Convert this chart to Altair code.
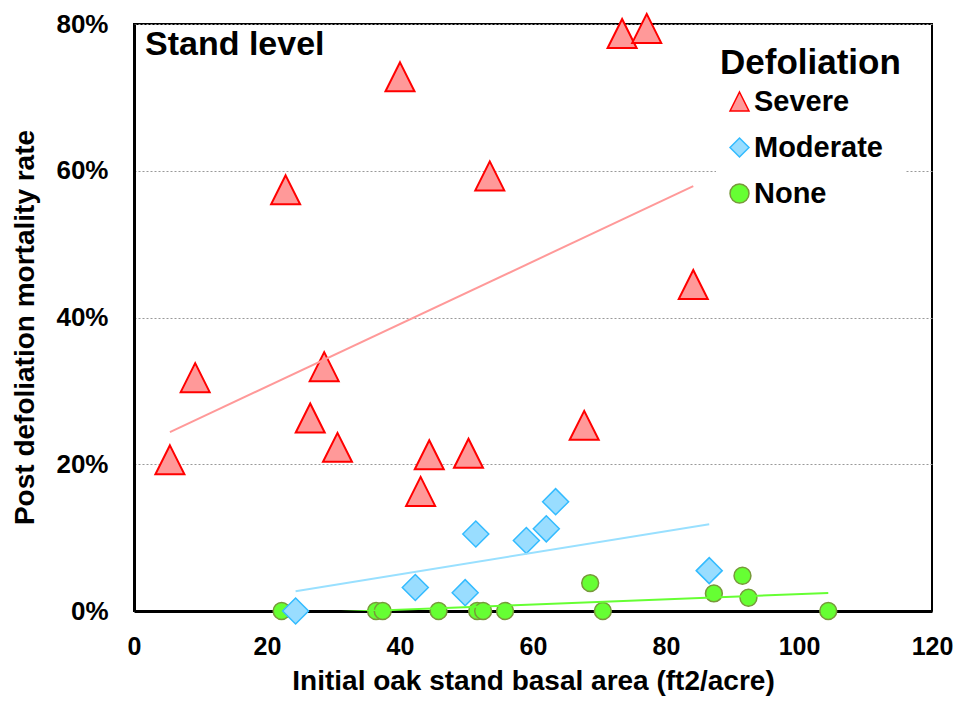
import altair as alt
import pandas as pd

# ---- data ----
series_names = ["Severe", "Moderate", "None"]

severe_x = [5.4, 9.2, 22.8, 26.5, 28.6, 30.6, 40.0, 43.1, 44.4, 50.3, 53.5, 67.7, 73.4, 77.1, 84.1]
severe_y = [20.6, 31.8, 57.4, 26.3, 33.3, 22.3, 72.8, 16.3, 21.3, 21.5, 59.3, 25.3, 78.7, 79.4, 44.5]

moderate_x = [24.3, 42.3, 49.8, 51.4, 59.0, 62.0, 63.4, 86.5]
moderate_y = [0.0, 3.2, 2.5, 10.5, 9.6, 11.2, 14.9, 5.5]

none_x = [22.2, 36.4, 37.4, 45.8, 51.6, 52.5, 55.8, 68.6, 70.5, 87.2, 91.5, 92.4, 104.4]
none_y = [0.0, 0.0, 0.0, 0.0, 0.0, 0.0, 0.0, 3.8, 0.0, 2.4, 4.8, 1.8, 0.0]

x_ticks = [0, 20, 40, 60, 80, 100, 120]
y_ticks = [0.0, 0.2, 0.4, 0.6, 0.8]

x_title = "Initial oak stand basal area (ft2/acre)"
y_title = "Post defoliation mortality rate"
legend_title = "Defoliation"
annotation = ["Stand level"]

# ---- styles ----
fills = ["#FF9999", "#99DDFF", "#66FF33"]
strokes = ["#FF0000", "#33BBFF", "#77993A"]
line_colors = ["#FF9999", "#99E0FF", "#66FF33"]
shapes = ["M0,-1L1,1L-1,1Z", "diamond", "circle"]
sizes = [841, 676, 285]
stroke_widths = [2, 1.5, 1.5]
FONT = "Liberation Sans"

rows = []
for name, xs, ys in [("Severe", severe_x, severe_y),
                     ("Moderate", moderate_x, moderate_y),
                     ("None", none_x, none_y)]:
    for xv, yv in zip(xs, ys):
        rows.append({"series": name, "x": xv, "y": yv / 100.0})
df = pd.DataFrame(rows)

X = alt.X("x:Q", scale=alt.Scale(domain=[0, 120], nice=False),
          axis=alt.Axis(values=x_ticks, title=x_title, grid=False, labelFlush=False,
                        labelFontSize=25,
                        labelPadding=23, titleY=78, titleBaseline="alphabetic"))
Y = alt.Y("y:Q", scale=alt.Scale(domain=[0, 0.8], nice=False),
          axis=alt.Axis(values=y_ticks, format=".0%", title=y_title, grid=True,
                        labelFlush=False, labelPadding=26, titleX=-101, titleY=303,
                        titleBaseline="alphabetic", titleAlign="center"))

fill_scale = alt.Scale(domain=series_names, range=fills)
stroke_scale = alt.Scale(domain=series_names, range=strokes)
shape_scale = alt.Scale(domain=series_names, range=shapes)

base = alt.Chart(df)


def points(i):
    name = series_names[i]
    return base.transform_filter(alt.datum.series == name).mark_point(
        filled=True, size=sizes[i], opacity=1, fillOpacity=1,
        strokeWidth=stroke_widths[i]
    ).encode(
        x=X, y=Y,
        fill=alt.Fill("series:N", scale=fill_scale, legend=alt.Legend(title=legend_title)),
        stroke=alt.Stroke("series:N", scale=stroke_scale, legend=alt.Legend(title=legend_title)),
        shape=alt.Shape("series:N", scale=shape_scale, legend=alt.Legend(title=legend_title)),
    )


def trend(i):
    name = series_names[i]
    return base.transform_filter(alt.datum.series == name).transform_regression(
        "x", "y"
    ).mark_line(color=line_colors[i], strokeWidth=2, clip=True).encode(x=X, y=Y)


label = alt.Chart(pd.DataFrame({"label": annotation})).mark_text(
    align="left", baseline="alphabetic", font=FONT, fontSize=34,
    fontWeight="bold", color="black"
).encode(text="label:N", x=alt.value(11), y=alt.value(31))

chart = alt.layer(
    points(2), points(0), points(1),
    trend(0), trend(1), trend(2),
    label
).properties(
    width=798, height=587,
    autosize=alt.AutoSizeParams(type="none"),
    padding={"left": 126, "top": 16, "right": 21, "bottom": 85},
    background="white",
).configure_view(
    stroke="black", strokeWidth=2
).configure_axis(
    domainColor="black", domainWidth=3, ticks=False, tickSize=0,
    labelFont=FONT, labelFontSize=26, labelFontWeight="bold", labelColor="black",
    titleFont=FONT, titleFontSize=28, titleFontWeight="bold", titleColor="black",
    gridColor="#999999", gridDash=[2, 2], gridWidth=1,
).configure_legend(
    orient="none", legendX=582, legendY=18, fillColor="white", padding=4,
    titleFont=FONT, titleFontSize=35, titleFontWeight="bold", titleColor="black",
    titlePadding=6, titleLimit=400, labelLimit=400,
    labelFont=FONT, labelFontSize=29, labelFontWeight="bold", labelColor="black",
    symbolSize=360, symbolStrokeWidth=1.5, rowPadding=16, labelOffset=0,
    symbolOffset=5, symbolOpacity=1,
)

chart.save("out.html", embed_options={"renderer": "svg", "actions": False})
